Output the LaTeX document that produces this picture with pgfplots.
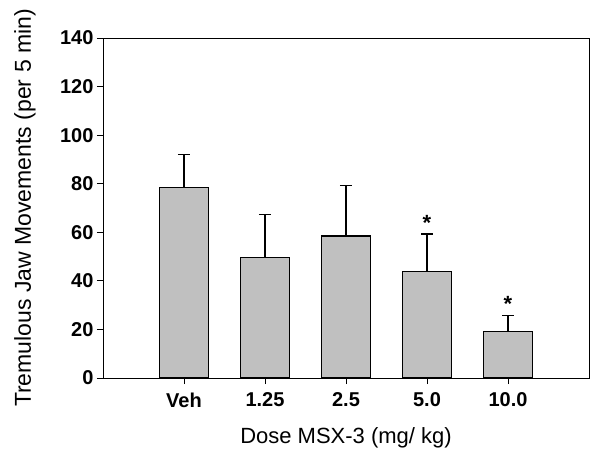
\documentclass[border=0pt]{standalone}
\usepackage{pgfplots}
\pgfplotsset{compat=1.18}
\usepackage{fontspec}
\setmainfont{Liberation Sans}
\definecolor{barfill}{RGB}{192,192,192}

\begin{document}
\begin{tikzpicture}
\begin{axis}[
  scale only axis, width=486pt, height=340pt,
  xmin=-1, xmax=5, ymin=0, ymax=140,
  xtick={0,1,2,3,4}, xticklabels={Veh,1.25,2.5,5.0,10.0},
  ytick={0,20,...,140},
  tick align=outside, xtick pos=bottom, ytick pos=left,
  major tick length=6pt,
  tick style={black, line width=0.9pt},
  axis line style={line width=0.9pt},
  /pgf/number format/assume math mode=true,
  tick label style={font=\fontsize{20}{22}\selectfont\bfseries},
  xticklabel style={yshift=-5pt},
  xlabel={Dose MSX-3 (mg/ kg)},
  ylabel={Tremulous Jaw Movements (per 5 min)},
  xlabel style={font=\fontsize{22}{24}\selectfont,
    at={(axis description cs:0.5,0)}, anchor=center, yshift=-60pt},
  ylabel style={font=\fontsize{23}{25}\selectfont,
    at={(axis description cs:0,0.5)}, anchor=center, yshift=78pt},
]
 \addplot[ybar, bar width=0.6, fill=barfill, draw=black, line width=1.2pt,
   error bars/.cd, y dir=plus, y explicit,
   error bar style={line width=1.2pt},
   error mark options={rotate=90, mark size=6pt, line width=1.2pt}]
   coordinates {
   (0,78.5) +- (0,13.5)
   (1,49.7) +- (0,17.6)
   (2,58.5) +- (0,20.7)
   (3,43.8) +- (0,15.5)
   (4,19.1) +- (0,6.6)};
 \addplot[draw=none, mark=none,
   nodes near coords={\fontsize{22}{24}\selectfont\bfseries *},
   every node near coord/.append style={anchor=center, inner sep=0pt}]
   coordinates {(3,64) (4,30.5)};
\end{axis}
\path ([xshift=-103pt,yshift=-73pt]current axis.south west)
  rectangle ([xshift=3pt,yshift=38pt]current axis.north east);
\end{tikzpicture}
\end{document}
